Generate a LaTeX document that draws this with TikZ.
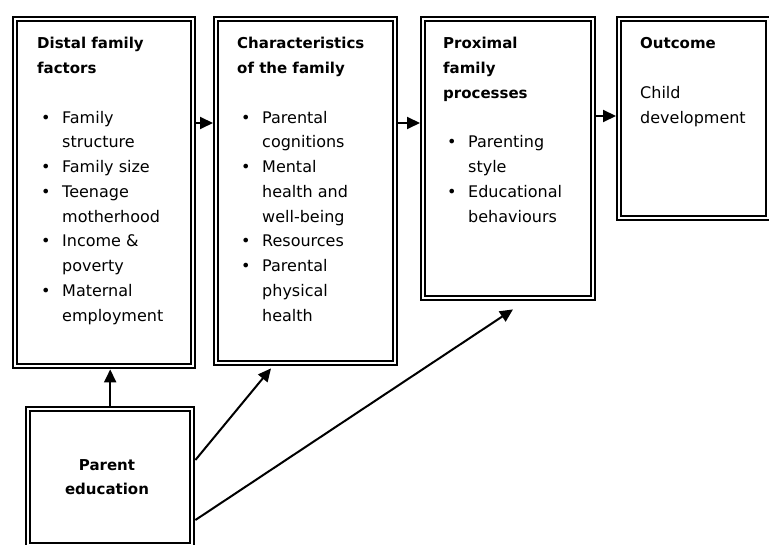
\documentclass[tikz,border=0pt]{standalone}
\usepackage{fontspec}
\setmainfont{DejaVu Sans}
\usetikzlibrary{arrows.meta}

\newcommand{\bul}{\makebox[25pt][l]{\hspace{4pt}\textbullet}}
\newcommand{\cnt}{\hspace*{25pt}}
\newcommand{\hd}[1]{{\fontsize{15}{24.75}\selectfont\bfseries #1}}

\begin{document}
\begin{tikzpicture}[x=1pt,y=-1pt,
  box/.style={draw=black,line width=2pt,double=white,double distance=2.4pt,
    outer sep=3.2pt,inner sep=0pt,anchor=north west},
  txt/.style={inner sep=0pt,anchor=base west,align=left,
    font=\fontsize{16}{24.75}\selectfont},
  flow/.style={-{Triangle[length=13pt,width=12pt]},line width=2pt}]
\useasboundingbox (0,0) rectangle (769,545);
\node[box,minimum width=178pt,minimum height=347pt] (distal) at (12,16) {};
\node[box,minimum width=179pt,minimum height=344pt] (char) at (213,16) {};
\node[box,minimum width=170pt,minimum height=279pt] (prox) at (420,16) {};
\node[box,minimum width=149pt,minimum height=199pt] (out) at (616,16) {};
\node[box,minimum width=164pt,minimum height=136pt] (edu) at (25,406) {};
% base anchor sits on the last line
\node[txt] (distaltxt) at (37,321.25) {\hd{Distal family}\\\hd{factors}\\[24.75pt]
  \bul Family\\
  \cnt structure\\
  \bul Family size\\
  \bul Teenage\\
  \cnt motherhood\\
  \bul Income \&\\
  \cnt poverty\\
  \bul Maternal\\
  \cnt employment};
\node[txt] (chartxt) at (237,321.25) {\hd{Characteristics}\\\hd{of the family}\\[24.75pt]
  \bul Parental\\
  \cnt cognitions\\
  \bul Mental\\
  \cnt health and\\
  \cnt well-being\\
  \bul Resources\\
  \bul Parental\\
  \cnt physical\\
  \cnt health};
\node[txt] (proxtxt) at (443,222.25) {\hd{Proximal}\\\hd{family}\\\hd{processes}\\[24.75pt]
  \bul Parenting\\
  \cnt style\\
  \bul Educational\\
  \cnt behaviours};
\node[txt] (outtxt) at (640,123.25) {\hd{Outcome}\\[24.75pt]
  Child\\
  development};
\node[txt,anchor=base,align=center] (edutxt) at (107,494.75) {\hd{Parent}\\\hd{education}};
\draw[flow] ([yshift=-107pt]distal.north east) -- ([yshift=-107pt]char.north west);
\draw[flow] ([yshift=-107pt]char.north east) -- ([yshift=-107pt]prox.north west);
\draw[flow] ([yshift=-100pt]prox.north east) -- ([yshift=-100pt]out.north west);
\draw[flow] (edu.north) -- (edu.north |- distal.south);
\draw[flow] ([yshift=-54pt]edu.north east) -- ([xshift=58pt,yshift=-2pt]char.south west);
\draw[flow] ([yshift=-114pt]edu.north east) -- ([xshift=93pt,yshift=-8pt]prox.south west);
\end{tikzpicture}
\end{document}
